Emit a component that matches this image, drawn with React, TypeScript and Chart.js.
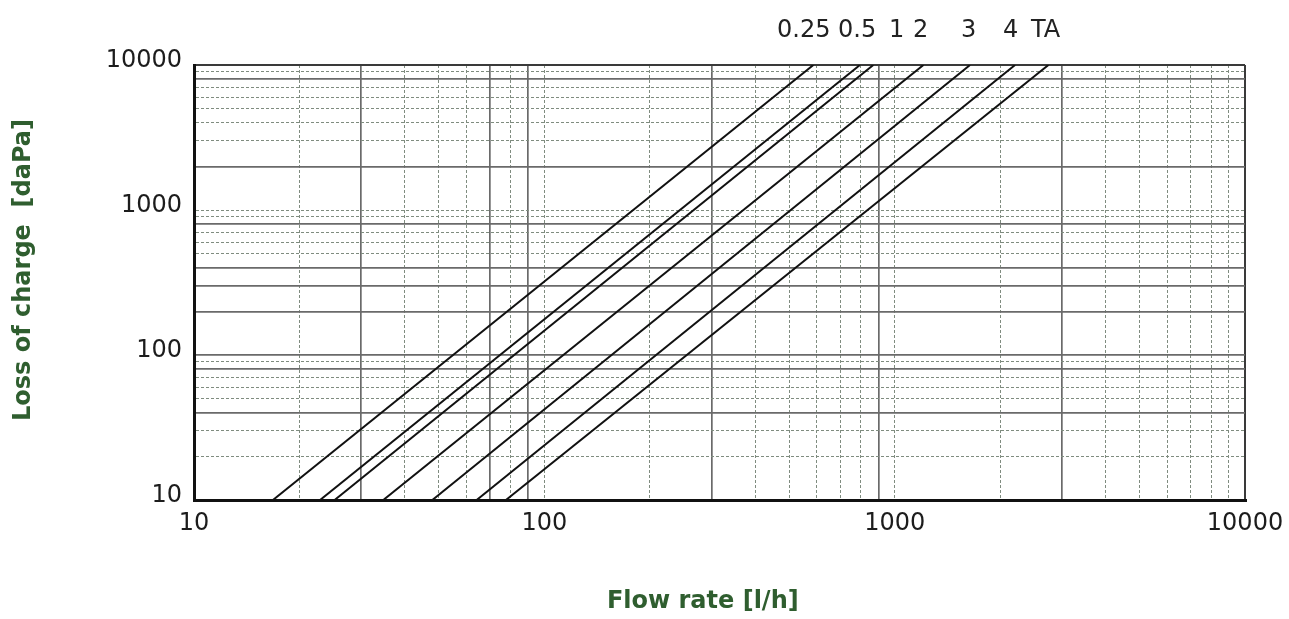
import React, { useEffect, useRef } from 'react';
import { Chart, registerables } from 'chart.js';

Chart.register(...registerables);

// ---- data ----
const seriesNames = ['0.25', '0.5', '1', '2', '3', '4', 'TA'];
// flow rate [l/h] where each curve crosses 10 daPa and 10000 daPa
const flowAtLow = [16.8, 22.9, 25.2, 34.7, 47.9, 64.1, 77.7];
const flowAtHigh = [586, 796, 869, 1208, 1641, 2206, 2747];
const pressureEnds = [10, 10000];
const xTickLabels = [10, 100, 1000, 10000];
const yTickLabels = [10, 100, 1000, 10000];
const solidXGrid = [30, 70, 90, 300, 900, 3000];
const solidYGrid = [40, 80, 100, 200, 300, 400, 800, 2000, 8000];
const topLabels = ['0.25', '0.5', '1', '2', '3', '4', 'TA'];

// ---- layout / style ----
const topLabelX = [777, 838, 889, 913, 961, 1003, 1031];
const W = 1289;
const H = 619;
const PLOT = { left: 194, right: 1245, top: 65, bottom: 500 };
const TITLE_COLOR = '#2f5e2f';
const TEXT_COLOR = '#1c1c1c';
const FONT = "'DejaVu Sans', 'Liberation Sans', Arial, sans-serif";

const gridValues: number[] = [];
[10, 100, 1000].forEach((d) => {
  for (let m = 1; m <= 9; m++) gridValues.push(m * d);
});
gridValues.push(10000);

function makeScale(axis: 'x' | 'y') {
  const solid = axis === 'x' ? solidXGrid : solidYGrid;
  const labelled = axis === 'x' ? xTickLabels : yTickLabels;
  const tv = (ctx: any) => (ctx && ctx.tick ? ctx.tick.value : undefined);
  return {
    type: 'logarithmic' as const,
    position: axis === 'x' ? 'bottom' : 'left',
    min: 10,
    max: 10000,
    afterBuildTicks: (scale: any) => {
      scale.ticks = gridValues.map((value) => ({ value }));
    },
    afterFit: (scale: any) => {
      if (axis === 'x') {
        scale.height = H - PLOT.bottom;
        scale.paddingLeft = 0;
        scale.paddingRight = 0;
      } else {
        scale.width = PLOT.left;
        scale.paddingTop = 0;
        scale.paddingBottom = 0;
      }
    },
    ticks: {
      autoSkip: false,
      maxRotation: 0,
      padding: axis === 'x' ? 9 : 12,
      labelOffset: axis === 'y' ? -4 : 0,
      color: TEXT_COLOR,
      font: { family: FONT, size: 24 },
      callback: (value: any) => (labelled.includes(Number(value)) ? String(value) : ''),
    },
    grid: {
      drawTicks: false,
      color: (ctx: any) => {
        const v = tv(ctx);
        if (v === 10) return '#111111';
        if (v === 10000) return '#3a3a3a';
        if (solid.includes(v)) return '#6a6a6a';
        return '#7f8c7f';
      },
      lineWidth: (ctx: any) => {
        const v = tv(ctx);
        if (v === 10) return 3;
        if (v === 10000) return 2;
        if (solid.includes(v)) return 1.7;
        return 1;
      },
    },
    border: {
      display: true,
      color: '#111111',
      width: 3,
      dash: (ctx: any) => {
        const v = tv(ctx);
        if (v === undefined || v === 10 || v === 10000 || solid.includes(v)) return [];
        return [3, 2];
      },
    },
    title: {
      display: true,
      text: axis === 'x' ? 'Flow rate [l/h]    ' : '   Loss of charge  [daPa]',
      color: TITLE_COLOR,
      font: { family: FONT, size: 24, weight: 'bold' as const },
      padding: axis === 'x' ? { top: 0, bottom: 3 } : { top: 9, bottom: 0 },
    },
  };
}

const topLabelsPlugin = {
  id: 'topLabels',
  afterDraw(chart: any) {
    const ctx = chart.ctx;
    ctx.save();
    ctx.fillStyle = '#222222';
    ctx.font = `24px ${FONT}`;
    ctx.textAlign = 'left';
    ctx.textBaseline = 'alphabetic';
    topLabels.forEach((t, i) => ctx.fillText(t, topLabelX[i], 37));
    ctx.restore();
  },
};

export default function App() {
  const ref = useRef<HTMLCanvasElement | null>(null);

  useEffect(() => {
    if (!ref.current) return;
    const datasets = seriesNames.map((name, i) => ({
      label: name,
      data: [
        { x: flowAtLow[i], y: pressureEnds[0] },
        { x: flowAtHigh[i], y: pressureEnds[1] },
      ],
      showLine: true,
      borderColor: '#111111',
      backgroundColor: '#111111',
      borderWidth: 2,
      pointRadius: 0,
      pointHoverRadius: 0,
    }));
    const chart = new Chart(ref.current, {
      type: 'scatter',
      data: { datasets },
      options: {
        responsive: true,
        maintainAspectRatio: false,
        animation: false,
        layout: {
          padding: { top: PLOT.top, right: W - PLOT.right, left: 0, bottom: 0 },
        },
        plugins: {
          legend: { display: false },
          tooltip: { enabled: false },
          title: { display: false },
        },
        scales: {
          x: makeScale('x') as any,
          y: makeScale('y') as any,
        },
      },
      plugins: [topLabelsPlugin],
    });
    return () => chart.destroy();
  }, []);

  return (
    <div style={{ position: 'fixed', left: 0, top: 0, width: W, height: H, background: '#ffffff' }}>
      <canvas ref={ref} style={{ display: 'block' }} />
    </div>
  );
}
